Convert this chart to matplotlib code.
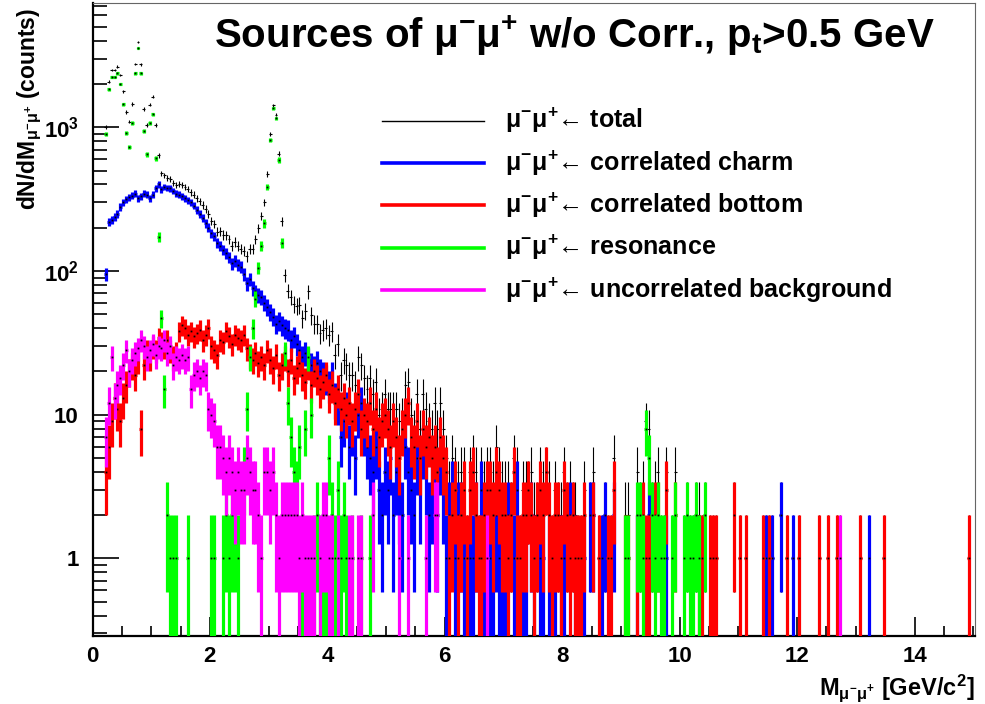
import numpy as np
import matplotlib
matplotlib.use('Agg')
import matplotlib.pyplot as plt
from matplotlib.lines import Line2D
from matplotlib.ticker import FixedLocator, MultipleLocator, LogLocator, NullFormatter

plt.rcParams['font.family'] = ['Liberation Sans', 'DejaVu Sans']
plt.rcParams['font.weight'] = 'bold'
plt.rcParams['mathtext.fontset'] = 'custom'
plt.rcParams['mathtext.rm'] = 'Liberation Sans:bold'
plt.rcParams['mathtext.bf'] = 'Liberation Sans:bold'
plt.rcParams['mathtext.it'] = 'Liberation Sans:bold'
plt.rcParams['mathtext.sf'] = 'Liberation Sans'
plt.rcParams['mathtext.default'] = 'rm'

BIN_W = 0.05  # GeV per bin, 300 bins from 0 to 15

# counts per bin, one row per GeV
charm = [
    0,0,0,0,95,220,226,238,250,280,300,315,325,335,346,320,330,345,340,320,
    340,375,400,370,385,380,375,360,345,340,330,320,310,300,285,265,250,235,215,200,
    183,175,156,150,140,133,125,113,118,110,107,95,82,88,76,72,68,66,60,56,
    52,48,43,45,42,40,39,33,35,31,28,25,27,24,22,21,23,20,19,18,
    16,19,13,12,7,9,11,6,8,5,10,12,8,6,5,4,6,3,2,4,
    3,5,2,4,3,2,6,4,3,2,5,3,6,4,2,3,4,2,5,3,
    1,2,3,1,2,2,1,0,1,1,2,0,3,1,0,1,1,2,1,1,
    1,2,0,1,3,0,1,1,0,2,1,0,1,1,0,1,0,1,0,1,
    1,0,2,0,1,0,0,1,0,2,2,0,0,1,2,0,0,2,0,0,
    0,0,0,0,0,1,0,0,0,2,0,0,0,0,0,1,0,0,0,0,
    0,0,0,0,0,0,0,0,0,0,0,0,0,0,0,0,0,0,0,0,
    0,0,0,0,0,0,0,0,0,1,0,1,0,0,2,0,0,0,1,0,
    0,0,0,0,0,0,0,0,0,0,0,0,0,0,0,0,0,0,0,0,
    0,0,0,0,1,0,0,0,0,0,0,0,0,0,0,0,0,0,0,0,
    0,0,0,0,0,0,0,0,0,0,0,0,0,0,0,0,0,0,0,0,
]
bottom = [
    0,0,0,0,4,6,9,13,11,9,13,16,20,22,19,24,8,22,28,25,
    30,28,34,32,30,33,28,25,27,38,42,40,36,38,35,37,39,33,36,40,
    30,28,26,33,32,38,35,31,36,34,33,36,29,26,24,27,23,25,22,28,
    24,21,26,19,22,25,20,24,18,21,23,19,17,22,16,20,18,15,17,19,
    14,16,12,15,11,13,10,12,9,11,14,8,10,9,12,8,11,7,9,10,
    8,6,9,7,5,8,10,12,7,6,9,5,8,6,7,5,6,4,7,5,
    4,1,2,3,1,2,3,1,3,4,2,1,1,2,3,3,2,4,3,2,
    2,1,2,4,1,1,2,2,3,2,1,2,3,2,4,2,1,2,2,1,
    3,2,1,2,1,1,1,2,0,0,2,0,1,0,0,1,1,3,0,0,
    0,1,1,0,0,1,0,2,1,1,0,2,2,0,0,3,0,0,2,0,
    0,0,0,0,0,0,1,1,0,0,1,1,1,0,0,0,0,0,2,0,
    1,0,1,0,0,0,0,0,1,0,1,0,0,0,0,0,1,0,0,0,
    1,0,0,0,0,0,0,1,0,0,1,0,0,1,0,0,0,0,0,0,
    0,1,0,0,0,0,0,0,0,1,0,0,0,0,0,0,0,0,0,0,
    0,0,0,0,0,0,0,0,0,0,0,0,0,0,0,0,0,0,1,0,
]
resonance = [
    0,0,0,0,893,1836,2245,2245,2371,1999,1449,916,731,1075,2371,3556,2371,941,651,1065,
    1230,611,173,47,15,2,1,1,1,0,0,0,1,0,0,0,0,0,0,0,
    1,1,0,0,1,2,1,2,2,1,0,4,11,25,40,64,105,150,214,385,
    815,1353,1153,592,156,27,12,7,4,3,6,1,8,25,10,1,2,1,1,1,
    5,2,1,3,1,2,1,0,1,0,0,1,0,0,1,0,0,0,0,0,
    0,0,0,0,0,0,0,0,0,0,0,0,0,0,0,0,0,0,0,0,
    0,0,0,0,0,0,0,0,0,0,0,0,0,0,0,0,0,0,0,0,
    0,0,0,0,0,0,0,0,0,0,0,0,0,0,0,0,0,0,0,0,
    0,0,0,0,0,0,0,0,0,0,0,0,0,0,0,0,0,0,0,0,
    0,1,1,0,0,2,2,1,8,5,2,1,2,1,1,0,0,1,2,0,
    0,1,2,1,1,2,1,0,2,0,0,0,0,0,0,0,0,0,0,0,
    0,0,0,0,0,0,0,0,0,0,0,0,0,0,0,0,0,0,0,0,
    0,0,0,0,0,0,0,0,0,0,0,0,0,0,0,0,0,0,0,0,
    0,0,0,0,0,0,0,0,0,0,0,0,0,0,0,0,0,0,0,0,
    0,0,0,0,0,0,0,0,0,0,0,0,0,0,0,0,0,0,0,0,
]
uncorrelated = [
    0,0,0,0,7,12,25,13,16,18,22,28,20,24,27,29,33,30,25,28,
    31,26,30,29,33,27,30,22,25,24,26,24,25,15,19,20,18,20,19,11,
    10,9,6,6,5,4,5,4,3,4,3,3,5,4,3,3,2,1,4,4,
    3,4,2,1,2,2,2,2,2,2,1,2,1,1,1,1,0,1,2,2,
    1,1,0,1,0,0,0,1,1,0,1,1,0,0,0,2,0,0,0,0,
    0,0,0,0,1,0,0,1,0,0,0,0,0,1,0,0,2,2,0,0,
    0,0,0,0,0,0,0,0,0,0,0,0,0,0,1,0,0,0,0,0,
    0,0,0,0,0,0,0,0,0,0,0,0,0,0,0,0,0,0,0,0,
    0,0,0,0,0,0,0,0,0,0,0,0,0,0,0,0,0,0,0,0,
    0,0,0,0,0,0,0,0,0,0,0,0,0,0,0,0,0,0,0,0,
    0,0,0,0,0,0,0,0,0,0,0,0,0,0,0,0,0,0,0,0,
    0,0,0,0,0,0,0,0,0,0,0,0,0,0,0,0,0,0,0,0,
    0,0,0,0,0,0,0,0,0,0,0,0,0,0,1,0,0,0,0,0,
    0,0,0,0,0,0,0,0,0,0,0,0,0,0,0,0,0,0,0,0,
    0,0,0,0,0,0,0,0,0,0,0,0,0,0,0,0,0,0,0,0,
]
total = (np.array(charm) + np.array(bottom) + np.array(resonance)
         + np.array(uncorrelated))

x_ticks = [0, 2, 4, 6, 8, 10, 12, 14]
y_ticks = [1, 10, 100, 1000]
y_tick_labels = ['1', '10', r'$10^{2}$', r'$10^{3}$']
legend_labels = ['total', 'correlated charm', 'correlated bottom',
                 'resonance', 'uncorrelated background']
legend_colors = ['black', '#0000ff', '#ff0000', '#00ff00', '#ff00ff']

W, H = 985, 704
L, R, T, B = 92.5, 975, 3, 636
fig = plt.figure(figsize=(W / 100, H / 100), dpi=100)
ax = fig.add_axes([L / W, 1 - B / H, (R - L) / W, (B - T) / H])
ax.set_yscale('log')
ax.set_xlim(0, 15.03)
ax.set_ylim(0.288, 7330)

centers = (np.arange(len(total)) + 0.5) * BIN_W


def draw(counts, color, lw, dots, z):
    n = np.asarray(counts, float)
    m = n > 0
    c = centers[m]
    v = n[m]
    e = np.sqrt(v)
    lo = np.where(v - e > 0, v - e, 1e-3)
    ax.vlines(c, lo, v + e, colors=color, lw=lw, zorder=z)
    ax.hlines(v, c - BIN_W / 2, c + BIN_W / 2, colors=color, lw=lw, zorder=z)
    if dots:
        ax.plot(c, v, ls='none', marker='s', ms=1.3, mew=0, color='black', zorder=z + 0.5)


draw(total, 'black', 0.8, False, 2)
draw(charm, legend_colors[1], 2.3, True, 3)
draw(bottom, legend_colors[2], 2.3, True, 4)
draw(resonance, legend_colors[3], 2.3, True, 5)
draw(uncorrelated, legend_colors[4], 2.3, True, 6)

# axes styling
for s in ['left', 'bottom']:
    ax.spines[s].set_linewidth(1.6)
    ax.spines[s].set_color('black')
for s in ['top', 'right']:
    ax.spines[s].set_linewidth(0.8)
    ax.spines[s].set_color('#666666')

ax.xaxis.set_major_locator(FixedLocator(x_ticks))
ax.xaxis.set_minor_locator(MultipleLocator(0.5))
ax.yaxis.set_major_locator(FixedLocator(y_ticks))
ax.set_yticklabels(y_tick_labels)
ax.set_xticklabels([str(t) for t in x_ticks])
ax.yaxis.set_minor_locator(LogLocator(base=10, subs=np.arange(2, 10)))
ax.yaxis.set_minor_formatter(NullFormatter())
ax.tick_params(axis='x', which='major', direction='in', length=14, width=1.2,
               labelsize=16, pad=7, top=False)
ax.tick_params(axis='x', which='minor', direction='in', length=7, width=1.2, top=False)
ax.tick_params(axis='y', which='major', direction='in', length=19, width=1.2,
               labelsize=16, pad=10, right=False)
ax.tick_params(axis='y', which='minor', direction='in', length=10, width=1.2, right=False)
for lab in ax.get_xticklabels() + ax.get_yticklabels():
    lab.set_fontweight('bold')

# title
fig.text(214 / W, 1 - 48 / H,
         r'Sources of $\mathsf{\mu}^{-}\mathsf{\mu}^{+}$ w/o Corr., p$_{t}$>0.5 GeV',
         fontsize=29, fontweight='bold', ha='left', va='baseline')

# legend
for i, (lab, col) in enumerate(zip(legend_labels, legend_colors)):
    y = 1 - (120.7 + i * 42.3) / H
    lw = 1.0 if i == 0 else 2.6
    fig.add_artist(Line2D([382 / W, 484 / W], [y, y], color=col, lw=lw))
    fig.text(505 / W, y,
             r'$\mathsf{\mu}^{-}\mathsf{\mu}^{+}$' + '\u2190 ' + lab,
             fontsize=18, fontweight='bold', ha='left', va='center')

# axis titles
fig.text(975 / W, 1 - 695 / H,
         r'M$_{\mathsf{\mu}^{-}\mathsf{\mu}^{+}}$ [GeV/c$^{2}$]',
         fontsize=17, fontweight='bold', ha='right', va='baseline')
fig.text(30 / W, 1 - 8 / H,
         r'dN/dM$_{\mathsf{\mu}^{-}\mathsf{\mu}^{+}}$ (counts)',
         fontsize=16.5, fontweight='bold', ha='center', va='top', rotation=90)

fig.savefig('out.png', dpi=100)
